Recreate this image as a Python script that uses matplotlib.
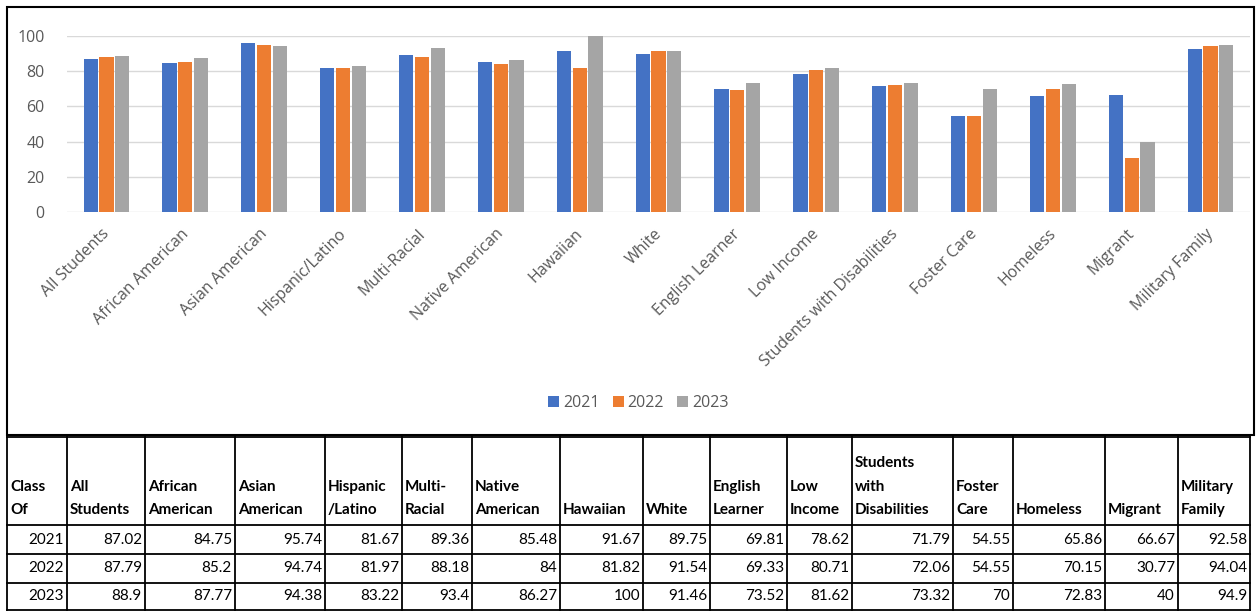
import numpy as np
import matplotlib.pyplot as plt
import matplotlib.transforms as mtrans
from matplotlib.lines import Line2D
from matplotlib.patches import Rectangle

plt.rcParams['font.family'] = ['Open Sans', 'DejaVu Sans']

groups = ['All Students', 'African American', 'Asian American', 'Hispanic/Latino',
          'Multi-Racial', 'Native American', 'Hawaiian', 'White', 'English Learner',
          'Low Income', 'Students with Disabilities', 'Foster Care', 'Homeless',
          'Migrant', 'Military Family']
headers = ['Class\nOf', 'All\nStudents', 'African\nAmerican', 'Asian\nAmerican',
           'Hispanic\n/Latino', 'Multi-\nRacial', 'Native\nAmerican', 'Hawaiian', 'White',
           'English\nLearner', 'Low\nIncome', 'Students\nwith\nDisabilities', 'Foster\nCare',
           'Homeless', 'Migrant', 'Military\nFamily']
years = ['2021', '2022', '2023']
v2021 = [87.02, 84.75, 95.74, 81.67, 89.36, 85.48, 91.67, 89.75, 69.81, 78.62, 71.79, 54.55, 65.86, 66.67, 92.58]
v2022 = [87.79, 85.2, 94.74, 81.97, 88.18, 84, 81.82, 91.54, 69.33, 80.71, 72.06, 54.55, 70.15, 30.77, 94.04]
v2023 = [88.9, 87.77, 94.38, 83.22, 93.4, 86.27, 100, 91.46, 73.52, 81.62, 73.32, 70, 72.83, 40, 94.9]
colors = ['#4472C4', '#ED7D31', '#A5A5A5']

W, H = 1256, 612
fig = plt.figure(figsize=(W / 100, H / 100), dpi=100)

# overlay in pixel coordinates for frame and table
bg = fig.add_axes([0, 0, 1, 1])
bg.set_xlim(0, W)
bg.set_ylim(H, 0)
bg.axis('off')
bg.add_patch(Rectangle((7, 7), 1247, 428, fill=False, ec='black', lw=1.5))

# bar chart
ax = fig.add_axes([67 / W, 1 - 212 / H, (1250 - 67) / W, (212 - 36) / H])
x = np.arange(len(groups))
bw = 0.18
for i, (yr, vals) in enumerate(zip(years, [v2021, v2022, v2023])):
    ax.bar(x + (i - 1) * 0.2, vals, bw, color=colors[i], label=yr, zorder=3)
ax.set_xlim(-0.5, len(groups) - 0.5)
ax.set_ylim(0, 100)
ax.set_yticks(range(0, 101, 20))
ax.grid(axis='y', color='#d9d9d9', lw=1, zorder=0)
for s in ax.spines.values():
    s.set_visible(False)
ax.tick_params(axis='both', length=0, colors='#595959', labelsize=11.5)
ax.tick_params(axis='y', pad=16)
ax.tick_params(axis='x', pad=10)
ax.set_xticks(x)
ax.set_xticklabels(groups, rotation=45, ha='right', va='top', rotation_mode='anchor')
shift = mtrans.ScaledTranslation(-5 / 100, 0, fig.dpi_scale_trans)
for lab in ax.get_xticklabels():
    lab.set_transform(lab.get_transform() + shift)
ax.legend(loc='center', bbox_to_anchor=(0.483, -1.085), ncol=3, frameon=False,
          fontsize=11.5, handlelength=0.7, handleheight=0.7, handletextpad=0.25,
          columnspacing=0.8, labelcolor='#595959')

# table
col_edges = [7, 67, 145, 235, 325, 402, 472, 560, 643, 710, 787, 852, 953, 1013, 1105, 1178, 1250]
row_edges = [437, 525, 554, 583, 610]
for xe in col_edges:
    bg.add_line(Line2D([xe, xe], [row_edges[0], row_edges[-1]], color='black', lw=1.3))
for ye in row_edges:
    bg.add_line(Line2D([col_edges[0], col_edges[-1]], [ye, ye], color='black', lw=1.3))
for j, h in enumerate(headers):
    bg.text(col_edges[j] + 3, row_edges[1] - 8, h, ha='left', va='bottom',
            fontsize=11, fontweight='bold', linespacing=1.85, family=['Lato', 'DejaVu Sans'])
rows = [v2021, v2022, v2023]
for r, (yr, vals) in enumerate(zip(years, rows)):
    yc = (row_edges[r + 1] + row_edges[r + 2]) / 2
    cells = [yr] + ['{:g}'.format(v) for v in vals]
    for j, c in enumerate(cells):
        bg.text(col_edges[j + 1] - 3, yc, c, ha='right', va='center', fontsize=11,
                family=['Lato', 'DejaVu Sans'])

fig.savefig('out.png', dpi=100)
